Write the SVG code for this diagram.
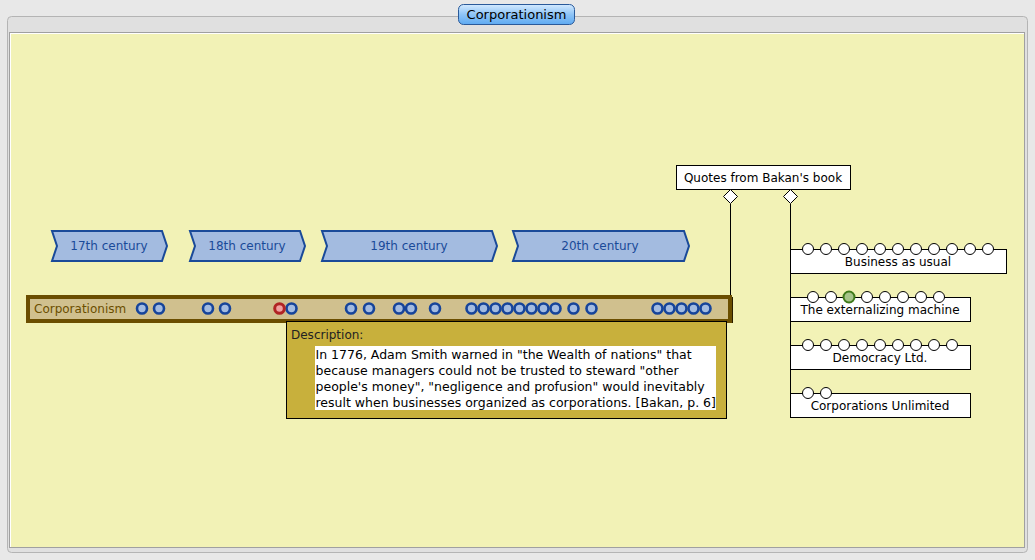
<svg xmlns="http://www.w3.org/2000/svg" width="1035" height="560" viewBox="0 0 1035 560">
<defs>
<linearGradient id="tabg" x1="0" y1="0" x2="0" y2="1">
<stop offset="0" stop-color="#d4eaff"/>
<stop offset="0.5" stop-color="#8ec4f6"/>
<stop offset="1" stop-color="#5eaaf2"/>
</linearGradient>
<style>
text{font-family:"DejaVu Sans","Liberation Sans",sans-serif;font-size:12px;}
.cent{fill:#a3bbe0;stroke:#1a4a99;stroke-width:2;}
.centt{fill:#1a4a99;text-anchor:middle;}
.ev{fill:#a3bbe0;stroke:#16449a;stroke-width:2.6;}
.box{fill:#ffffff;stroke:#000;stroke-width:1;}
.bt{fill:#000;text-anchor:middle;}
.q{fill:#ffffff;stroke:#000;stroke-width:1;}
.ln{stroke:#000;stroke-width:1;fill:none;}
.dt{fill:#000;font-size:12.5px;}
</style>
</defs>
<rect x="0" y="0" width="1035" height="560" fill="#e8e8e8"/>
<rect x="7.5" y="16.5" width="1020" height="536" rx="4" fill="#e0e0e0" stroke="#b4b4b4"/>
<rect x="9.5" y="32.5" width="1015" height="515" fill="#ffffff" stroke="#a0a0a0"/>
<rect x="11" y="34" width="1013" height="513" fill="#f2f2b6"/>
<g id="title">
<rect x="458.5" y="4.5" width="116" height="20" rx="5" fill="url(#tabg)" stroke="#2a5a9a"/>
<text x="516.5" y="19" style="font-size:13px;fill:#000;text-anchor:middle;">Corporationism</text>
</g>
<g id="c17">
<polygon class="cent" points="52,231 162,231 167,246 162,261 52,261 57,246"/>
<text class="centt" x="109" y="250">17th century</text>
</g>
<g id="c18">
<polygon class="cent" points="190,231 300,231 305,246 300,261 190,261 195,246"/>
<text class="centt" x="247" y="250">18th century</text>
</g>
<g id="c19">
<polygon class="cent" points="322,231 492,231 497,246 492,261 322,261 327,246"/>
<text class="centt" x="409" y="250">19th century</text>
</g>
<g id="c20">
<polygon class="cent" points="513,231 684,231 689,246 684,261 513,261 518,246"/>
<text class="centt" x="600" y="250">20th century</text>
</g>
<g id="connectors">
<line class="ln" x1="730.5" y1="204" x2="730.5" y2="296"/>
<line class="ln" x1="790.5" y1="204" x2="790.5" y2="417"/>
</g>
<g id="quotes">
<rect class="q" x="676.5" y="165.5" width="174" height="24"/>
<text class="bt" x="763" y="182">Quotes from Bakan's book</text>
<polygon class="q" points="730.5,189.5 737.5,196.5 730.5,203.5 723.5,196.5"/>
<polygon class="q" points="790.5,189.5 797.5,196.5 790.5,203.5 783.5,196.5"/>
</g>
<g id="timeline">
<rect x="28" y="297" width="702" height="24" fill="#d0c08e" stroke="#6b4e00" stroke-width="4"/>
<line x1="732.5" y1="297" x2="732.5" y2="323" stroke="#2a1e00" stroke-width="1"/>
<text x="34" y="313" style="fill:#6b4e00;">Corporationism</text>
<g>
<circle class="ev" cx="142" cy="308.5" r="5"/>
<circle class="ev" cx="159" cy="308.5" r="5"/>
<circle class="ev" cx="208" cy="308.5" r="5"/>
<circle class="ev" cx="225" cy="308.5" r="5"/>
<circle class="ev" cx="291.5" cy="308.5" r="5"/>
<circle cx="279.5" cy="308.5" r="4.8" fill="#f0a0a0" stroke="#b02424" stroke-width="3"/>
<circle class="ev" cx="351" cy="308.5" r="5"/>
<circle class="ev" cx="369" cy="308.5" r="5"/>
<circle class="ev" cx="399" cy="308.5" r="5"/>
<circle class="ev" cx="411" cy="308.5" r="5"/>
<circle class="ev" cx="435" cy="308.5" r="5"/>
<circle class="ev" cx="471.5" cy="308.5" r="5"/>
<circle class="ev" cx="483.5" cy="308.5" r="5"/>
<circle class="ev" cx="495.5" cy="308.5" r="5"/>
<circle class="ev" cx="507.5" cy="308.5" r="5"/>
<circle class="ev" cx="519.5" cy="308.5" r="5"/>
<circle class="ev" cx="531.5" cy="308.5" r="5"/>
<circle class="ev" cx="543.5" cy="308.5" r="5"/>
<circle class="ev" cx="555.5" cy="308.5" r="5"/>
<circle class="ev" cx="573.5" cy="308.5" r="5"/>
<circle class="ev" cx="591.5" cy="308.5" r="5"/>
<circle class="ev" cx="657.5" cy="308.5" r="5"/>
<circle class="ev" cx="669.5" cy="308.5" r="5"/>
<circle class="ev" cx="681.5" cy="308.5" r="5"/>
<circle class="ev" cx="693.5" cy="308.5" r="5"/>
<circle class="ev" cx="705.5" cy="308.5" r="5"/>
</g>
</g>
<g id="description">
<rect x="286.5" y="321.5" width="440" height="97" fill="#c8b03c" stroke="#000"/>
<text x="291" y="339" style="fill:#222;">Description:</text>
<rect x="315" y="346" width="401" height="64" fill="#ffffff"/>
<text class="dt" x="315.5" y="359">In 1776, Adam Smith warned in "the Wealth of nations" that</text>
<text class="dt" x="315.5" y="375">because managers could not be trusted to steward "other</text>
<text class="dt" x="315.5" y="391">people's money", "negligence and profusion" would inevitably</text>
<text class="dt" x="315.5" y="407">result when businesses organized as corporations. [Bakan, p. 6]</text>
</g>
<g id="business">
<rect class="box" x="790.5" y="249.5" width="216" height="24"/>
<text class="bt" x="898" y="266">Business as usual</text>
<g class="q">
<circle cx="808" cy="249" r="5.5"/><circle cx="826" cy="249" r="5.5"/><circle cx="844" cy="249" r="5.5"/><circle cx="862" cy="249" r="5.5"/><circle cx="880" cy="249" r="5.5"/><circle cx="898" cy="249" r="5.5"/><circle cx="916" cy="249" r="5.5"/><circle cx="934" cy="249" r="5.5"/><circle cx="952" cy="249" r="5.5"/><circle cx="970" cy="249" r="5.5"/><circle cx="988" cy="249" r="5.5"/>
</g>
</g>
<g id="externalizing">
<rect class="box" x="790.5" y="297.5" width="180" height="24"/>
<text class="bt" x="880" y="314">The externalizing machine</text>
<g class="q">
<circle cx="813" cy="297" r="5.5"/><circle cx="831" cy="297" r="5.5"/><circle cx="867" cy="297" r="5.5"/><circle cx="885" cy="297" r="5.5"/><circle cx="903" cy="297" r="5.5"/><circle cx="921" cy="297" r="5.5"/><circle cx="939" cy="297" r="5.5"/>
</g>
<circle cx="849" cy="297" r="5.5" fill="#a6c48a" stroke="#3f7a1a" stroke-width="2"/>
</g>
<g id="democracy">
<rect class="box" x="790.5" y="345.5" width="180" height="24"/>
<text class="bt" x="880" y="362">Democracy Ltd.</text>
<g class="q">
<circle cx="808" cy="345" r="5.5"/><circle cx="826" cy="345" r="5.5"/><circle cx="844" cy="345" r="5.5"/><circle cx="862" cy="345" r="5.5"/><circle cx="880" cy="345" r="5.5"/><circle cx="898" cy="345" r="5.5"/><circle cx="916" cy="345" r="5.5"/><circle cx="934" cy="345" r="5.5"/><circle cx="952" cy="345" r="5.5"/>
</g>
</g>
<g id="unlimited">
<rect class="box" x="790.5" y="393.5" width="180" height="24"/>
<text class="bt" x="880" y="410">Corporations Unlimited</text>
<g class="q">
<circle cx="808" cy="393" r="5.5"/><circle cx="826" cy="393" r="5.5"/>
</g>
</g>
</svg>
